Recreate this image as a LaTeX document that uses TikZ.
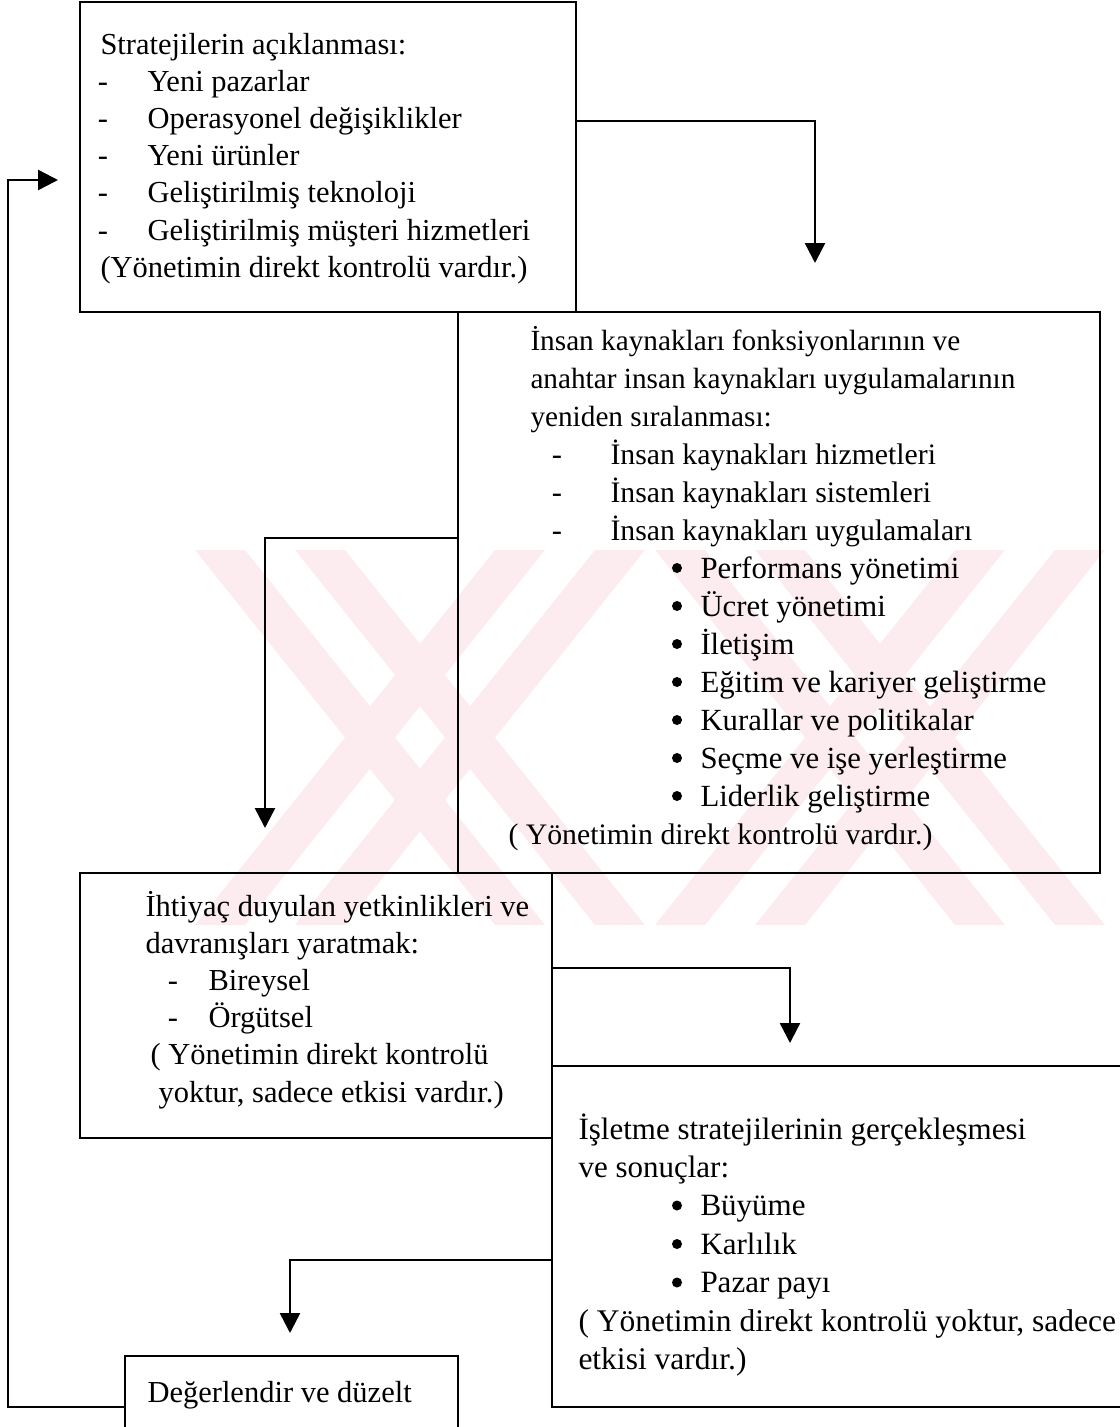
\documentclass[tikz,border=0pt]{standalone}
\usepackage{fontspec}
\setmainfont{Liberation Serif}
\usetikzlibrary{arrows.meta,fit}

\definecolor{wmark}{RGB}{253,236,239}

\tikzset{
    box/.style={draw, line width=1.1pt, inner sep=0pt},
    txt/.style={anchor=base west, inner sep=0pt, font=\fontsize{#1}{14}\selectfont},
    txt/.default=12.2,
    bul/.style={anchor=base, inner sep=0pt, font=\fontsize{12.2}{14}\selectfont},
    dot/.style={circle, fill, inner sep=0pt, minimum size=4pt},
    flow/.style={line width=1pt, -{Triangle[length=8pt,width=8pt]}}
}

\begin{document}
\begin{tikzpicture}[x=0.4pt, y=-0.4pt]
\useasboundingbox (0,0) rectangle (1120,1427);

% faint watermark behind the middle
\begin{scope}
\clip (150,550) rectangle (1120,925);
\foreach \c in {420,880}
  \foreach \d in {-50,50} {
    \fill[wmark] (\c+\d-175,550) -- (\c+\d-125,550) -- (\c+\d+175,925) -- (\c+\d+125,925) -- cycle;
    \fill[wmark] (\c+\d+125,550) -- (\c+\d+175,550) -- (\c+\d-125,925) -- (\c+\d-175,925) -- cycle;
  }
\end{scope}

% boxes
\node[box, fit={(80,2) (576,312)}] (strat) {};
\node[box, fit={(458,312) (1100,873)}] (hr) {};
\node[box, fit={(80,873) (552,1138)}] (comp) {};
\node[box, fit={(552,1066) (1135,1407)}] (res) {};
\node[box, fit={(125,1356) (458,1460)}] (eval) {};

% strategies
\node[txt] (s0) at (100,54) {Stratejilerin açıklanması:};
\foreach \lbl [count=\i] in {Yeni pazarlar, Operasyonel değişiklikler, Yeni ürünler,
    Geliştirilmiş teknoloji, Geliştirilmiş müşteri hizmetleri} {
  \node[bul] (sd\i) at (103,54+37.2*\i) {-};
  \node[txt] (s\i) at (147,54+37.2*\i) {\lbl};
}
\node[txt] (s6) at (100,277) {(Yönetimin direkt kontrolü vardır.)};

% human resources
\node[txt=11.7] (h1) at (530,350) {İnsan kaynakları fonksiyonlarının ve};
\node[txt=11.7] (h2) at (530,388) {anahtar insan kaynakları uygulamalarının};
\node[txt=11.7] (h3) at (530,426) {yeniden sıralanması:};
\foreach \lbl [count=\i] in {İnsan kaynakları hizmetleri, İnsan kaynakları sistemleri,
    İnsan kaynakları uygulamaları} {
  \node[bul] (hd\i) at (557,426+38*\i) {-};
  \node[txt=11.9] (hi\i) at (610,426+38*\i) {\lbl};
}
\foreach \lbl [count=\i] in {Performans yönetimi, Ücret yönetimi, İletişim,
    Eğitim ve kariyer geliştirme, Kurallar ve politikalar,
    Seçme ve işe yerleştirme, Liderlik geliştirme} {
  \node[dot] (hb\i) at (677,530+38*\i) {};
  \node[txt=12.3] (hp\i) at (700,540+38*\i) {\lbl};
}
\node[txt=11.9] (h4) at (508,844) {( Yönetimin direkt kontrolü vardır.)};

% competences
\node[txt] (c1) at (145,916) {İhtiyaç duyulan yetkinlikleri ve};
\node[txt] (c2) at (145,953) {davranışları yaratmak:};
\foreach \lbl [count=\i] in {Bireysel, Örgütsel} {
  \node[bul] (cd\i) at (173,953+37*\i) {-};
  \node[txt] (ci\i) at (208,953+37*\i) {\lbl};
}
\node[txt] (c3) at (150,1064) {( Yönetimin direkt kontrolü};
\node[txt] (c4) at (158,1102) {yoktur, sadece etkisi vardır.)};

% results
\node[txt=12.4] (r1) at (578,1139) {İşletme stratejilerinin gerçekleşmesi};
\node[txt=12.4] (r2) at (578,1177) {ve sonuçlar:};
\foreach \lbl [count=\i] in {Büyüme, Karlılık, Pazar payı} {
  \node[dot] (rb\i) at (677,1167+38.5*\i) {};
  \node[txt=12.4] (ri\i) at (700,1177+38.5*\i) {\lbl};
}
\node[txt=12.6] (r3) at (578,1331) {( Yönetimin direkt kontrolü yoktur, sadece};
\node[txt=12.6] (r4) at (578,1369) {etkisi vardır.)};

% evaluate
\node[txt] (e1) at (147,1402) {Değerlendir ve düzelt};

% connectors
\coordinate (k1) at (815,121);  \coordinate (t1) at (815,263);
\coordinate (k2) at (265,538);  \coordinate (t2) at (265,828);
\coordinate (k3) at (790,968);  \coordinate (t3) at (790,1043);
\coordinate (k4) at (290,1260); \coordinate (t4) at (290,1333);
\coordinate (k5) at (8,1407);   \coordinate (k6) at (8,180);
\coordinate (t5) at (58,180);

\draw[flow] (strat.east |- k1) -- (k1) -- (t1);
\draw[flow] (hr.west |- k2) -- (k2) -- (t2);
\draw[flow] (comp.east |- k3) -- (k3) -- (t3);
\draw[flow] (res.west |- k4) -- (k4) -- (t4);
\draw[flow] (eval.west |- k5) -- (k5) -- (k6) -- (t5);
\end{tikzpicture}
\end{document}
